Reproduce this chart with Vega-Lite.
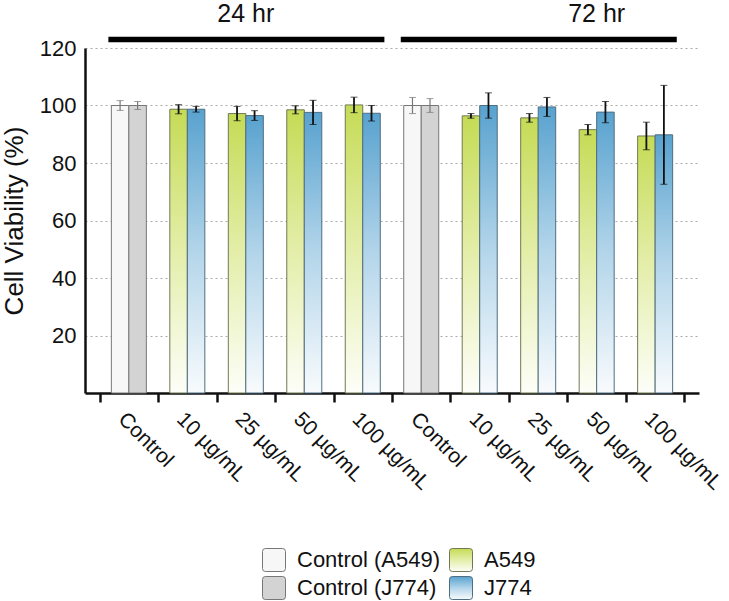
{
  "$schema": "https://vega.github.io/schema/vega-lite/v6.json",
  "autosize": {"type": "none"},
  "width": 614,
  "height": 345,
  "padding": {"left": 85, "top": 48, "right": 30, "bottom": 208},
  "config": {
    "font": "Liberation Sans",
    "view": {"stroke": null},
    "axis": {"labelColor": "#111", "titleColor": "#111"},
    "legend": {
      "symbolType": "M -0.75 -1 H 0.75 Q 1 -1 1 -0.75 V 0.75 Q 1 1 0.75 1 H -0.75 Q -1 1 -1 0.75 V -0.75 Q -1 -1 -0.75 -1 Z",
      "symbolSize": 529, "symbolStrokeWidth": 1, "symbolOpacity": 1,
      "labelFontSize": 22, "labelColor": "#111", "labelOffset": 11, "labelLimit": 300
    }
  },
  "resolve": {"scale": {"stroke": "independent"}, "legend": {"stroke": "independent"}},
  "datasets": {
    "bars": [
      {"cat": "24 hr|Control", "cell": "A549", "series": "Control (A549)", "v": 100, "lo": 98.3, "hi": 101.7},
      {"cat": "24 hr|Control", "cell": "J774", "series": "Control (J774)", "v": 100, "lo": 98.6, "hi": 101.4},
      {"cat": "24 hr|10 µg/mL", "cell": "A549", "series": "A549", "v": 98.7, "lo": 97.1, "hi": 100.3},
      {"cat": "24 hr|10 µg/mL", "cell": "J774", "series": "J774", "v": 98.7, "lo": 97.7, "hi": 99.7},
      {"cat": "24 hr|25 µg/mL", "cell": "A549", "series": "A549", "v": 97.2, "lo": 94.7, "hi": 99.7},
      {"cat": "24 hr|25 µg/mL", "cell": "J774", "series": "J774", "v": 96.5, "lo": 94.8, "hi": 98.2},
      {"cat": "24 hr|50 µg/mL", "cell": "A549", "series": "A549", "v": 98.5, "lo": 97.1, "hi": 99.9},
      {"cat": "24 hr|50 µg/mL", "cell": "J774", "series": "J774", "v": 97.6, "lo": 93.4, "hi": 101.8},
      {"cat": "24 hr|100 µg/mL", "cell": "A549", "series": "A549", "v": 100.2, "lo": 97.5, "hi": 102.9},
      {"cat": "24 hr|100 µg/mL", "cell": "J774", "series": "J774", "v": 97.3, "lo": 94.6, "hi": 100.0},
      {"cat": "72 hr|Control", "cell": "A549", "series": "Control (A549)", "v": 100, "lo": 97.2, "hi": 102.8},
      {"cat": "72 hr|Control", "cell": "J774", "series": "Control (J774)", "v": 100, "lo": 97.6, "hi": 102.4},
      {"cat": "72 hr|10 µg/mL", "cell": "A549", "series": "A549", "v": 96.4, "lo": 95.6, "hi": 97.2},
      {"cat": "72 hr|10 µg/mL", "cell": "J774", "series": "J774", "v": 100, "lo": 95.6, "hi": 104.4},
      {"cat": "72 hr|25 µg/mL", "cell": "A549", "series": "A549", "v": 95.7, "lo": 94.2, "hi": 97.2},
      {"cat": "72 hr|25 µg/mL", "cell": "J774", "series": "J774", "v": 99.5, "lo": 96.2, "hi": 102.8},
      {"cat": "72 hr|50 µg/mL", "cell": "A549", "series": "A549", "v": 91.6, "lo": 89.8, "hi": 93.4},
      {"cat": "72 hr|50 µg/mL", "cell": "J774", "series": "J774", "v": 97.7, "lo": 94.0, "hi": 101.4},
      {"cat": "72 hr|100 µg/mL", "cell": "A549", "series": "A549", "v": 89.4, "lo": 84.6, "hi": 94.2},
      {"cat": "72 hr|100 µg/mL", "cell": "J774", "series": "J774", "v": 89.8, "lo": 72.6, "hi": 107.0}
    ],
    "headers": [
      {"label": "24 hr", "from": "24 hr|Control", "to": "24 hr|100 µg/mL", "mid": "24 hr|25 µg/mL"},
      {"label": "72 hr", "from": "72 hr|Control", "to": "72 hr|100 µg/mL", "mid": "72 hr|50 µg/mL"}
    ]
  },
  "layer": [
    {
      "data": {"name": "bars"},
      "transform": [{"filter": "datum.series == 'Control (A549)'"}],
      "mark": {"type": "bar", "strokeWidth": 1, "fill": "#f7f7f7"},
      "encoding": {
        "x": {
          "field": "cat", "type": "nominal", "title": null,
          "scale": {
            "domain": ["24 hr|Control", "24 hr|10 µg/mL", "24 hr|25 µg/mL", "24 hr|50 µg/mL", "24 hr|100 µg/mL",
                       "72 hr|Control", "72 hr|10 µg/mL", "72 hr|25 µg/mL", "72 hr|50 µg/mL", "72 hr|100 µg/mL"],
            "paddingInner": 0, "paddingOuter": 0.25
          },
          "axis": {
            "labelExpr": "split(datum.label, '|')[1]",
            "tickBand": "extent",
            "ticks": true, "tickSize": 9, "tickWidth": 2.5, "tickColor": "#111",
            "domainColor": "#111", "domainWidth": 2.5,
            "labelAngle": 45, "labelAlign": "left", "labelBaseline": "top",
            "labelFontSize": 21, "labelPadding": 6, "grid": false
          }
        },
        "xOffset": {
          "field": "cell", "type": "nominal",
          "scale": {"domain": ["A549", "J774"], "paddingInner": 0, "paddingOuter": 0.67}
        },
        "y": {
          "field": "v", "type": "quantitative", "title": "Cell Viability (%)",
          "scale": {"domain": [0, 120], "nice": false},
          "axis": {
            "values": [20, 40, 60, 80, 100, 120],
            "grid": true, "gridDash": [2, 3], "gridColor": "#aaa", "gridWidth": 1,
            "ticks": false, "domainColor": "#111", "domainWidth": 2.5,
            "labelFontSize": 22, "labelPadding": 9,
            "titleFontSize": 26, "titleFontWeight": "normal", "titlePadding": 12
          }
        },
        "stroke": {
          "field": "series", "type": "nominal",
          "scale": {"domain": ["Control (A549)"], "range": ["#777"]},
          "legend": {"title": null, "orient": "none", "legendX": 177, "legendY": 500}
        }
      }
    },
    {
      "data": {"name": "bars"},
      "transform": [{"filter": "datum.series == 'Control (J774)'"}],
      "mark": {"type": "bar", "strokeWidth": 1, "fill": "#d3d3d3"},
      "encoding": {
        "x": {"field": "cat", "type": "nominal", "title": null},
        "xOffset": {"field": "cell", "type": "nominal"},
        "y": {"field": "v", "type": "quantitative", "title": "Cell Viability (%)"},
        "stroke": {
          "field": "series", "type": "nominal",
          "scale": {"domain": ["Control (J774)"], "range": ["#777"]},
          "legend": {"title": null, "orient": "none", "legendX": 177, "legendY": 528}
        }
      }
    },
    {
      "data": {"name": "bars"},
      "transform": [{"filter": "datum.series == 'A549'"}],
      "mark": {
        "type": "bar", "strokeWidth": 1,
        "fill": {"gradient": "linear", "x1": 0, "y1": 0, "x2": 0, "y2": 1,
                 "stops": [{"offset": 0, "color": "#c5db55"}, {"offset": 0.5, "color": "#e4eeaa"}, {"offset": 1, "color": "#fdfef8"}]}
      },
      "encoding": {
        "x": {"field": "cat", "type": "nominal", "title": null},
        "xOffset": {"field": "cell", "type": "nominal"},
        "y": {"field": "v", "type": "quantitative", "title": "Cell Viability (%)"},
        "stroke": {
          "field": "series", "type": "nominal",
          "scale": {"domain": ["A549"], "range": ["#6f7a55"]},
          "legend": {"title": null, "orient": "none", "legendX": 364, "legendY": 500}
        }
      }
    },
    {
      "data": {"name": "bars"},
      "transform": [{"filter": "datum.series == 'J774'"}],
      "mark": {
        "type": "bar", "strokeWidth": 1,
        "fill": {"gradient": "linear", "x1": 0, "y1": 0, "x2": 0, "y2": 1,
                 "stops": [{"offset": 0, "color": "#58a2cf"}, {"offset": 0.5, "color": "#b3d5ea"}, {"offset": 1, "color": "#f8fbfd"}]}
      },
      "encoding": {
        "x": {"field": "cat", "type": "nominal", "title": null},
        "xOffset": {"field": "cell", "type": "nominal"},
        "y": {"field": "v", "type": "quantitative", "title": "Cell Viability (%)"},
        "stroke": {
          "field": "series", "type": "nominal",
          "scale": {"domain": ["J774"], "range": ["#4f6e82"]},
          "legend": {"title": null, "orient": "none", "legendX": 364, "legendY": 528}
        }
      }
    },
    {
      "data": {"name": "bars"},
      "mark": {"type": "rule"},
      "encoding": {
        "x": {"field": "cat", "type": "nominal", "title": null},
        "xOffset": {"field": "cell", "type": "nominal"},
        "y": {"field": "lo", "type": "quantitative", "title": "Cell Viability (%)"},
        "y2": {"field": "hi"},
        "color": {"condition": {"test": "indexof(datum.series, 'Control') >= 0", "value": "#777"}, "value": "#111"},
        "strokeWidth": {"condition": {"test": "indexof(datum.series, 'Control') >= 0", "value": 1.2}, "value": 1.8}
      }
    },
    {
      "data": {"name": "bars"},
      "mark": {"type": "tick", "orient": "horizontal", "size": 7},
      "encoding": {
        "x": {"field": "cat", "type": "nominal", "title": null},
        "xOffset": {"field": "cell", "type": "nominal"},
        "y": {"field": "lo", "type": "quantitative", "title": "Cell Viability (%)"},
        "color": {"condition": {"test": "indexof(datum.series, 'Control') >= 0", "value": "#777"}, "value": "#111"},
        "strokeWidth": {"condition": {"test": "indexof(datum.series, 'Control') >= 0", "value": 1.2}, "value": 1.8}
      }
    },
    {
      "data": {"name": "bars"},
      "mark": {"type": "tick", "orient": "horizontal", "size": 7},
      "encoding": {
        "x": {"field": "cat", "type": "nominal", "title": null},
        "xOffset": {"field": "cell", "type": "nominal"},
        "y": {"field": "hi", "type": "quantitative", "title": "Cell Viability (%)"},
        "color": {"condition": {"test": "indexof(datum.series, 'Control') >= 0", "value": "#777"}, "value": "#111"},
        "strokeWidth": {"condition": {"test": "indexof(datum.series, 'Control') >= 0", "value": 1.2}, "value": 1.8}
      }
    },
    {
      "data": {"name": "headers"},
      "mark": {"type": "rule", "strokeWidth": 5.5, "strokeCap": "butt", "color": "#000"},
      "encoding": {
        "x": {"field": "from", "type": "nominal", "bandPosition": 0.15, "title": null},
        "x2": {"field": "to", "bandPosition": 0.87},
        "y": {"datum": 123, "type": "quantitative", "title": "Cell Viability (%)"}
      }
    },
    {
      "data": {"name": "headers"},
      "mark": {"type": "text", "fontSize": 25, "baseline": "alphabetic", "align": "center", "color": "#111"},
      "encoding": {
        "x": {"field": "mid", "type": "nominal", "title": null},
        "y": {"datum": 129.0, "type": "quantitative", "title": "Cell Viability (%)"},
        "text": {"field": "label"}
      }
    }
  ]
}
